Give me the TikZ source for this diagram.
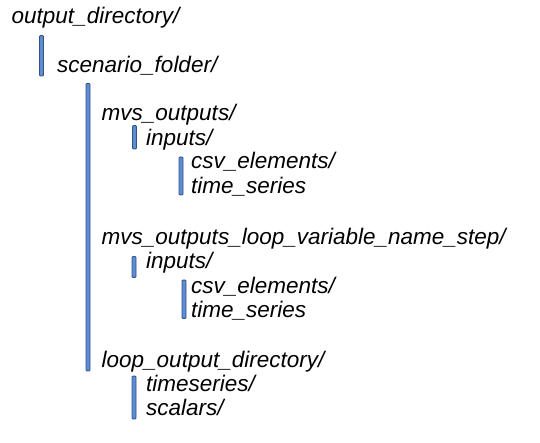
\documentclass[tikz,border=0pt]{standalone}
\usepackage{fontspec}
\setmainfont{Liberation Sans}
\definecolor{barblue}{RGB}{91,141,213}
\definecolor{barline}{RGB}{52,82,132}
\begin{document}
\begin{tikzpicture}[x=1pt,y=1pt]
    \tikzstyle{every node}+=[inner sep=0pt, anchor=base west, font=\fontsize{22.5}{27}\selectfont\itshape]
    \tikzstyle{bar}=[draw=barline, fill=barblue, line width=0.8pt, rounded corners=1pt]
    \useasboundingbox (0,0) rectangle (540,-443);
    \node (outdir) at (11.5,-24) {output\_directory/};
    \draw [bar] (39.5,-35.5) rectangle (43.5,-76);
    \node (scenario) at (57,-72.5) {scenario\_folder/};
    \draw [bar] (86,-83.5) rectangle (90,-371);
    \node (mvsout) at (101.5,-121) {mvs\_outputs/};
    \draw [bar] (132.5,-125.5) rectangle (136.5,-149);
    \node (inputsa) at (146,-145.5) {inputs/};
    \draw [bar] (179,-157) rectangle (183,-195);
    \node (csva) at (191,-169) {csv\_elements/};
    \node (tsa) at (191,-194) {time\_series};
    \node (mvsloop) at (101.5,-245) {mvs\_outputs\_loop\_variable\_name\_step/};
    \draw [bar] (132,-256.5) rectangle (136,-277.5);
    \node (inputsb) at (146,-268.5) {inputs/};
    \draw [bar] (182,-280) rectangle (186,-318.5);
    \node (csvb) at (191,-293) {csv\_elements/};
    \node (tsb) at (191,-317) {time\_series};
    \node (loopdir) at (101.5,-367) {loop\_output\_directory/};
    \draw [bar] (132,-376) rectangle (136,-419);
    \node (tseries) at (146,-391.5) {timeseries/};
    \node (scalars) at (146,-415) {scalars/};
\end{tikzpicture}
\end{document}
